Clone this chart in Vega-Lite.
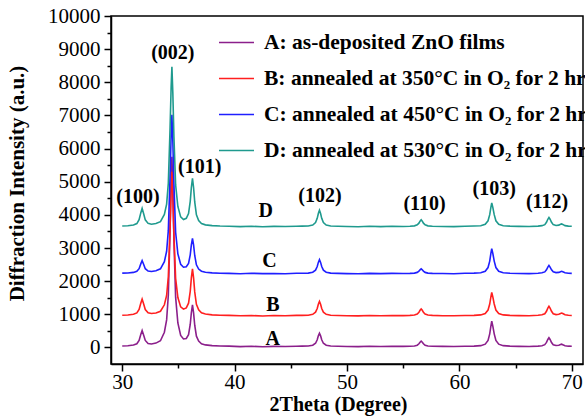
{
  "$schema": "https://vega.github.io/schema/vega-lite/v6.json",
  "width": 472,
  "height": 348,
  "autosize": {"type": "none"},
  "padding": {"left": 111, "top": 16, "right": 2, "bottom": 56},
  "background": "white",
  "config": {"view": {"stroke": "black", "strokeWidth": 1.5}, "font": "Liberation Serif"},
  "resolve": {"axis": {"x": "independent", "y": "independent"}},
  "datasets": {
    "xrd": [
      {"x":30.0,"A":45,"B":973,"C":2243,"D":3665},
      {"x":30.5,"A":50,"B":978,"C":2247,"D":3670},
      {"x":31.0,"A":72,"B":999,"C":2264,"D":3693},
      {"x":31.3,"A":111,"B":1040,"C":2296,"D":3738},
      {"x":31.5,"A":213,"B":1146,"C":2377,"D":3855},
      {"x":31.65,"A":390,"B":1330,"C":2521,"D":4059},
      {"x":31.77,"A":510,"B":1455,"C":2617,"D":4197},
      {"x":31.9,"A":377,"B":1316,"C":2510,"D":4043},
      {"x":32.05,"A":211,"B":1143,"C":2376,"D":3850},
      {"x":32.3,"A":119,"B":1044,"C":2303,"D":3743},
      {"x":32.6,"A":103,"B":1022,"C":2290,"D":3718},
      {"x":33.0,"A":131,"B":1039,"C":2314,"D":3738},
      {"x":33.4,"A":201,"B":1091,"C":2373,"D":3796},
      {"x":33.75,"A":459,"B":1286,"C":2589,"D":4012},
      {"x":33.95,"A":831,"B":1568,"C":2901,"D":4325},
      {"x":34.1,"A":1574,"B":2132,"C":3523,"D":4951},
      {"x":34.25,"A":3462,"B":3564,"C":5104,"D":6542},
      {"x":34.35,"A":5006,"B":4736,"C":6397,"D":7843},
      {"x":34.42,"A":5750,"B":5300,"C":7020,"D":8470},
      {"x":34.5,"A":4835,"B":4606,"C":6254,"D":7699},
      {"x":34.6,"A":3233,"B":3390,"C":4912,"D":6349},
      {"x":34.75,"A":1517,"B":2088,"C":3475,"D":4903},
      {"x":34.95,"A":738,"B":1506,"C":2823,"D":4253},
      {"x":35.2,"A":361,"B":1224,"C":2508,"D":3940},
      {"x":35.45,"A":256,"B":1155,"C":2420,"D":3861},
      {"x":35.7,"A":271,"B":1193,"C":2433,"D":3897},
      {"x":35.9,"A":386,"B":1336,"C":2532,"D":4041},
      {"x":36.05,"A":693,"B":1693,"C":2793,"D":4408},
      {"x":36.15,"A":1047,"B":2099,"C":3094,"D":4826},
      {"x":36.25,"A":1281,"B":2369,"C":3293,"D":5103},
      {"x":36.35,"A":1035,"B":2091,"C":3084,"D":4817},
      {"x":36.45,"A":670,"B":1675,"C":2774,"D":4389},
      {"x":36.6,"A":340,"B":1301,"C":2494,"D":4003},
      {"x":36.8,"A":190,"B":1133,"C":2366,"D":3829},
      {"x":37.05,"A":112,"B":1046,"C":2300,"D":3740},
      {"x":37.4,"A":76,"B":1006,"C":2268,"D":3698},
      {"x":38.0,"A":54,"B":983,"C":2250,"D":3674},
      {"x":38.7,"A":43,"B":971,"C":2240,"D":3662},
      {"x":39.5,"A":38,"B":968,"C":2235,"D":3658},
      {"x":40.5,"A":25,"B":955,"C":2225,"D":3645},
      {"x":41.5,"A":35,"B":963,"C":2238,"D":3655},
      {"x":42.5,"A":22,"B":950,"C":2226,"D":3642},
      {"x":43.5,"A":33,"B":962,"C":2232,"D":3652},
      {"x":44.5,"A":26,"B":957,"C":2222,"D":3647},
      {"x":45.5,"A":36,"B":966,"C":2236,"D":3657},
      {"x":46.0,"A":38,"B":968,"C":2240,"D":3660},
      {"x":46.55,"A":42,"B":973,"C":2243,"D":3665},
      {"x":46.95,"A":66,"B":999,"C":2268,"D":3694},
      {"x":47.2,"A":126,"B":1063,"C":2331,"D":3768},
      {"x":47.35,"A":230,"B":1175,"C":2440,"D":3895},
      {"x":47.45,"A":350,"B":1304,"C":2566,"D":4042},
      {"x":47.55,"A":430,"B":1390,"C":2650,"D":4140},
      {"x":47.65,"A":350,"B":1304,"C":2566,"D":4042},
      {"x":47.75,"A":230,"B":1175,"C":2440,"D":3895},
      {"x":47.9,"A":126,"B":1063,"C":2331,"D":3768},
      {"x":48.15,"A":66,"B":999,"C":2268,"D":3694},
      {"x":48.55,"A":42,"B":973,"C":2243,"D":3665},
      {"x":49.2,"A":35,"B":965,"C":2235,"D":3656},
      {"x":50.0,"A":30,"B":958,"C":2228,"D":3648},
      {"x":51.0,"A":24,"B":952,"C":2221,"D":3643},
      {"x":52.0,"A":34,"B":962,"C":2233,"D":3655},
      {"x":53.0,"A":27,"B":955,"C":2226,"D":3646},
      {"x":54.0,"A":35,"B":964,"C":2235,"D":3654},
      {"x":55.0,"A":31,"B":960,"C":2230,"D":3650},
      {"x":55.6,"A":35,"B":966,"C":2234,"D":3656},
      {"x":56.0,"A":44,"B":978,"C":2243,"D":3668},
      {"x":56.25,"A":68,"B":1008,"C":2264,"D":3698},
      {"x":56.4,"A":110,"B":1060,"C":2300,"D":3750},
      {"x":56.5,"A":158,"B":1120,"C":2342,"D":3810},
      {"x":56.6,"A":190,"B":1160,"C":2370,"D":3850},
      {"x":56.7,"A":158,"B":1120,"C":2342,"D":3810},
      {"x":56.8,"A":110,"B":1060,"C":2300,"D":3750},
      {"x":56.95,"A":68,"B":1008,"C":2264,"D":3698},
      {"x":57.2,"A":44,"B":978,"C":2243,"D":3668},
      {"x":57.6,"A":35,"B":966,"C":2234,"D":3656},
      {"x":58.5,"A":32,"B":958,"C":2230,"D":3648},
      {"x":59.5,"A":26,"B":954,"C":2224,"D":3644},
      {"x":60.5,"A":34,"B":963,"C":2236,"D":3654},
      {"x":61.3,"A":40,"B":968,"C":2242,"D":3662},
      {"x":61.9,"A":53,"B":981,"C":2252,"D":3671},
      {"x":62.3,"A":98,"B":1023,"C":2297,"D":3714},
      {"x":62.55,"A":212,"B":1128,"C":2410,"D":3820},
      {"x":62.7,"A":410,"B":1310,"C":2605,"D":4005},
      {"x":62.8,"A":638,"B":1520,"C":2830,"D":4218},
      {"x":62.88,"A":790,"B":1660,"C":2980,"D":4360},
      {"x":62.98,"A":638,"B":1520,"C":2830,"D":4218},
      {"x":63.1,"A":410,"B":1310,"C":2605,"D":4005},
      {"x":63.25,"A":212,"B":1128,"C":2410,"D":3820},
      {"x":63.5,"A":98,"B":1023,"C":2297,"D":3714},
      {"x":63.9,"A":53,"B":981,"C":2252,"D":3671},
      {"x":64.5,"A":39,"B":968,"C":2239,"D":3659},
      {"x":65.3,"A":32,"B":961,"C":2232,"D":3652},
      {"x":66.2,"A":28,"B":956,"C":2228,"D":3647},
      {"x":67.0,"A":39,"B":969,"C":2238,"D":3659},
      {"x":67.35,"A":53,"B":985,"C":2251,"D":3674},
      {"x":67.6,"A":83,"B":1017,"C":2279,"D":3705},
      {"x":67.75,"A":151,"B":1090,"C":2341,"D":3775},
      {"x":67.87,"A":239,"B":1185,"C":2423,"D":3867},
      {"x":67.97,"A":292,"B":1242,"C":2472,"D":3922},
      {"x":68.07,"A":240,"B":1186,"C":2424,"D":3868},
      {"x":68.2,"A":149,"B":1089,"C":2340,"D":3775},
      {"x":68.35,"A":83,"B":1017,"C":2280,"D":3705},
      {"x":68.6,"A":59,"B":991,"C":2257,"D":3681},
      {"x":68.85,"A":64,"B":999,"C":2264,"D":3689},
      {"x":69.0,"A":86,"B":1024,"C":2285,"D":3714},
      {"x":69.1,"A":97,"B":1037,"C":2296,"D":3727},
      {"x":69.2,"A":83,"B":1022,"C":2283,"D":3712},
      {"x":69.4,"A":52,"B":985,"C":2252,"D":3675},
      {"x":69.7,"A":38,"B":969,"C":2237,"D":3659},
      {"x":70.0,"A":34,"B":965,"C":2234,"D":3655}
    ],
    "peaks": [
      {"x":31.4,"y":4550,"t":"(100)"},
      {"x":34.5,"y":8890,"t":"(002)"},
      {"x":36.9,"y":5450,"t":"(101)"},
      {"x":47.6,"y":4560,"t":"(102)"},
      {"x":56.9,"y":4340,"t":"(110)"},
      {"x":63.1,"y":4790,"t":"(103)"},
      {"x":67.8,"y":4400,"t":"(112)"}
    ],
    "letters": [
      {"x":42.77,"y":4126,"t":"D"},
      {"x":43.1,"y":2620,"t":"C"},
      {"x":43.4,"y":1295,"t":"B"},
      {"x":43.4,"y":240,"t":"A"}
    ]
  },
  "layer": [
    {
      "data": {"name": "xrd"},
      "transform": [{"fold": ["A", "B", "C", "D"], "as": ["s", "y"]}],
      "mark": {"type": "line", "strokeWidth": 1.6, "clip": true},
      "encoding": {
        "x": {
          "field": "x", "type": "quantitative",
          "scale": {"domain": [29, 71], "nice": false, "zero": false},
          "axis": {
            "orient": "bottom",
            "values": [30, 40, 50, 60, 70],
            "format": "d",
            "labelOverlap": false,
            "grid": false,
            "domainColor": "black", "domainWidth": 1.5,
            "tickColor": "black", "tickWidth": 1.5, "tickSize": 7,
            "labelFont": "Liberation Serif", "labelFontSize": 21, "labelColor": "black", "labelPadding": 0,
            "title": "2Theta (Degree)",
            "titleFont": "Liberation Serif", "titleFontWeight": "bold", "titleFontSize": 20, "titleColor": "black",
            "titlePadding": 2, "titleX": 227
          }
        },
        "y": {
          "field": "y", "type": "quantitative",
          "scale": {"domain": [-500, 10000], "nice": false, "zero": false},
          "axis": {
            "orient": "left",
            "values": [0, 1000, 2000, 3000, 4000, 5000, 6000, 7000, 8000, 9000, 10000],
            "format": "d",
            "labelOverlap": false,
            "grid": false,
            "domainColor": "black", "domainWidth": 1.5,
            "tickColor": "black", "tickWidth": 1.5, "tickSize": 7,
            "labelFont": "Liberation Serif", "labelFontSize": 21, "labelColor": "black", "labelPadding": 4,
            "title": "Diffraction Intensity (a.u.)",
            "titleFont": "Liberation Serif", "titleFontWeight": "bold", "titleFontSize": 21, "titleColor": "black",
            "titlePadding": 20, "titleY": 167
          }
        },
        "color": {
          "field": "s", "type": "nominal",
          "scale": {"domain": ["A", "B", "C", "D"], "range": ["#8b1f8b", "#ff1f1f", "#1f1fff", "#1f9a8e"]},
          "legend": {
            "orient": "none", "legendX": 107, "legendY": 8,
            "title": null, "padding": 0,
            "symbolType": "stroke", "symbolSize": 1225, "symbolStrokeWidth": 1.5,
            "labelFont": "Liberation Serif", "labelFontWeight": "bold", "labelFontSize": 21.5, "labelColor": "black",
            "labelLimit": 600, "labelOffset": 9, "rowPadding": 7,
            "labelExpr": "datum.label === 'A' ? 'A: as-deposited ZnO films' : datum.label === 'B' ? 'B: annealed at 350°C in O₂ for 2 hr' : datum.label === 'C' ? 'C: annealed at 450°C in O₂ for 2 hr' : 'D: annealed at 530°C in O₂ for 2 hr'"
          }
        }
      }
    },
    {
      "data": {"name": "peaks"},
      "mark": {"type": "text", "font": "Liberation Serif", "fontWeight": "bold", "fontSize": 20, "color": "black"},
      "encoding": {
        "x": {"field": "x", "type": "quantitative", "axis": null},
        "y": {
          "field": "y", "type": "quantitative",
          "axis": {
            "orient": "left",
            "values": [500, 1500, 2500, 3500, 4500, 5500, 6500, 7500, 8500, 9500],
            "labels": false, "domain": false, "grid": false, "title": null,
            "tickColor": "black", "tickWidth": 1.5, "tickSize": 4
          }
        },
        "text": {"field": "t"}
      }
    },
    {
      "data": {"name": "letters"},
      "mark": {"type": "text", "font": "Liberation Serif", "fontWeight": "bold", "fontSize": 20, "color": "black"},
      "encoding": {
        "x": {
          "field": "x", "type": "quantitative",
          "axis": {
            "orient": "bottom",
            "values": [35, 45, 55, 65],
            "labels": false, "domain": false, "grid": false, "title": null,
            "tickColor": "black", "tickWidth": 1.5, "tickSize": 4
          }
        },
        "y": {"field": "y", "type": "quantitative", "axis": null},
        "text": {"field": "t"}
      }
    }
  ]
}
